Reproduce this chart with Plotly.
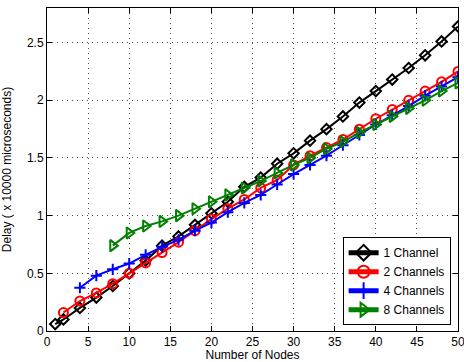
import plotly.graph_objects as go

x_black = [1, 2, 4, 6, 8, 10, 12, 14, 16, 18, 20, 22, 24, 26, 28, 30, 32, 34, 36, 38, 40, 42, 44, 46, 48, 50]
y_black = [0.06, 0.10, 0.20, 0.29, 0.39, 0.50, 0.61, 0.74, 0.82, 0.92, 1.02, 1.12, 1.25, 1.33, 1.45, 1.54,
           1.65, 1.75, 1.86, 1.98, 2.08, 2.18, 2.28, 2.39, 2.51, 2.64]

x_red = [2, 4, 6, 8, 10, 12, 14, 16, 18, 20, 22, 24, 26, 28, 30, 32, 34, 36, 38, 40, 42, 44, 46, 48, 50]
y_red = [0.16, 0.26, 0.33, 0.41, 0.50, 0.59, 0.68, 0.77, 0.87, 0.97, 1.06, 1.14, 1.24, 1.31, 1.44, 1.52,
         1.59, 1.66, 1.75, 1.84, 1.92, 2.00, 2.08, 2.16, 2.25]

x_blue = [4, 6, 8, 10, 12, 14, 16, 18, 20, 22, 24, 26, 28, 30, 32, 34, 36, 38, 40, 42, 44, 46, 48, 50]
y_blue = [0.375, 0.48, 0.535, 0.585, 0.66, 0.73, 0.79, 0.87, 0.94, 1.03, 1.11, 1.18, 1.27, 1.36, 1.44,
          1.52, 1.61, 1.70, 1.79, 1.87, 1.95, 2.04, 2.12, 2.20]

x_green = [8, 10, 12, 14, 16, 18, 20, 22, 24, 26, 28, 30, 32, 34, 36, 38, 40, 42, 44, 46, 48, 50]
y_green = [0.74, 0.85, 0.91, 0.95, 1.00, 1.06, 1.12, 1.18, 1.24, 1.30, 1.37, 1.44, 1.50, 1.58, 1.64,
           1.72, 1.79, 1.86, 1.93, 2.00, 2.08, 2.15]

series_names = ["1 Channel", "2 Channels", "4 Channels", "8 Channels"]
x_ticks = [0, 5, 10, 15, 20, 25, 30, 35, 40, 45, 50]
y_ticks = [0, 0.5, 1, 1.5, 2, 2.5]
y_tick_labels = ["0", "0.5", "1", "1.5", "2", "2.5"]

FONT = "Liberation Sans, Arial, sans-serif"

fig = go.Figure()
specs = [
    (x_black, y_black, "#000000", "diamond-open", 8),
    (x_red, y_red, "#ff0000", "circle-open", 9),
    (x_blue, y_blue, "#0000ff", "cross-thin-open", 8),
    (x_green, y_green, "#008000", "triangle-right-open", 10),
]
for (xs, ys, col, sym, sz), name in zip(specs, series_names):
    fig.add_trace(go.Scatter(
        x=xs, y=ys, name=name, mode="lines+markers",
        line=dict(color=col, width=2),
        marker=dict(symbol=sym, size=sz, color=col, line=dict(color=col, width=2)),
    ))

axis_common = dict(
    showline=True, linecolor="black", linewidth=1, mirror="ticks",
    ticks="inside", ticklen=5, tickcolor="black",
    showgrid=True, gridcolor="rgba(0,0,0,0.7)", griddash="1px,4px", gridwidth=1,
    zeroline=False, automargin=False, ticklabeloverflow="allow",
    tickfont=dict(family=FONT, size=12, color="black"),
)

fig.update_xaxes(range=[0, 50], tickvals=x_ticks,
                 title=dict(text="Number of Nodes",
                            font=dict(family=FONT, size=12, color="black")),
                 **axis_common)
fig.update_yaxes(range=[0, 2.8], tickvals=y_ticks, ticktext=y_tick_labels,
                 title=dict(text="Delay ( x 10000 microseconds)",
                            font=dict(family=FONT, size=12, color="black")),
                 **axis_common)

fig.update_layout(
    width=464, height=362,
    margin=dict(l=47, r=6, t=8, b=31),
    paper_bgcolor="white", plot_bgcolor="white",
    showlegend=True,
    legend=dict(
        x=0.982, y=0.018, xanchor="right", yanchor="bottom",
        bgcolor="white", bordercolor="black", borderwidth=1,
        font=dict(family=FONT, size=12, color="black"),
        tracegroupgap=0, itemsizing="constant",
    ),
)

fig.write_html("out.html", config={"displayModeBar": False},
               post_script="document.body.style.margin='0';document.body.style.padding='0';")
